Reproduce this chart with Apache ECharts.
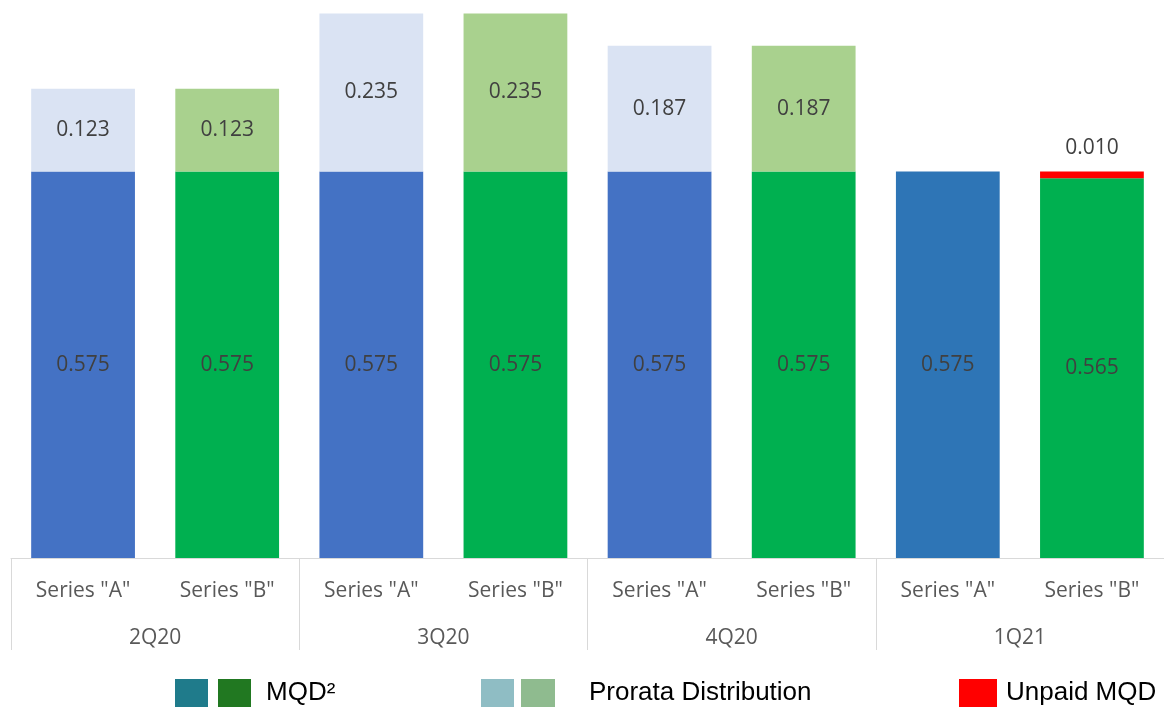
<!DOCTYPE html>
<html>
<head>
<meta charset="utf-8">
<script src="https://cdn.jsdelivr.net/npm/echarts@6/dist/echarts.min.js"></script>
<style>
  html, body { margin: 0; padding: 0; background: #fff; }
  #chart { width: 1164px; height: 707px; }
</style>
</head>
<body>
<div id="chart"></div>
<script>
// bars, one per series per quarter
var barLabels = ['Series "A"', 'Series "B"', 'Series "A"', 'Series "B"', 'Series "A"', 'Series "B"', 'Series "A"', 'Series "B"'];
var quarters = ['2Q20', '3Q20', '4Q20', '1Q21'];
var mqd = [0.575, 0.575, 0.575, 0.575, 0.575, 0.575, 0.575, 0.565];
var extra = [0.123, 0.123, 0.235, 0.235, 0.187, 0.187, null, 0.010];

// colours
var baseColors = ['#4472C4', '#00B050', '#4472C4', '#00B050', '#4472C4', '#00B050', '#2E75B6', '#00B050'];
var topColors = ['#DAE3F3', '#A9D18E', '#DAE3F3', '#A9D18E', '#DAE3F3', '#A9D18E', '#DAE3F3', '#FF0000'];

var chart = echarts.init(document.getElementById('chart'));

var labelFont = { fontFamily: 'Open Sans', fontSize: 21, color: '#404040' };

var baseData = mqd.map(function (v, i) {
  return { value: v, itemStyle: { color: baseColors[i] } };
});
var topData = extra.map(function (v, i) {
  var item = { value: v, itemStyle: { color: topColors[i] } };
  // the tiny red slice gets its label above
  if (i === 7) item.label = { position: 'top', distance: 13 };
  return item;
});

var option = {
  animation: false,
  grid: { left: 11, width: 1159, top: 0, height: 558 },
  xAxis: [
    {
      type: 'category',
      data: barLabels,
      axisLine: { show: true, lineStyle: { color: '#D9D9D9', width: 1 } },
      axisTick: { show: false },
      axisLabel: { margin: 23, fontFamily: 'Open Sans', fontSize: 21, color: '#595959' }
    },
    {
      type: 'category',
      position: 'bottom',
      data: quarters,
      axisLine: { show: false },
      axisTick: { show: true, length: 92, lineStyle: { color: '#D9D9D9', width: 1 } },
      axisLabel: { margin: 70, fontFamily: 'Open Sans', fontSize: 21, color: '#595959' }
    }
  ],
  yAxis: {
    type: 'value', min: 0, max: 0.83, show: false,
    splitLine: { show: false }
  },
  series: [
    {
      name: 'MQD²', type: 'bar', stack: 'total', barWidth: '72%',
      data: baseData,
      label: Object.assign({ show: true, position: 'inside', formatter: function (p) { return p.value.toFixed(3); } }, labelFont)
    },
    {
      name: 'Prorata Distribution', type: 'bar', stack: 'total', barWidth: '72%',
      data: topData,
      label: Object.assign({ show: true, position: 'inside', formatter: function (p) { return p.value == null ? '' : p.value.toFixed(3); } }, labelFont)
    }
  ],
  graphic: [
    { type: 'rect', shape: { x: 175, y: 679, width: 33, height: 28 }, style: { fill: '#1F7B8B' } },
    { type: 'rect', shape: { x: 218, y: 679, width: 33, height: 28 }, style: { fill: '#217821' } },
    { type: 'text', x: 266, y: 693, style: { text: 'MQD²', fontFamily: 'Liberation Sans', fontSize: 26, fill: '#000', verticalAlign: 'middle' } },
    { type: 'rect', shape: { x: 481, y: 679, width: 33, height: 28 }, style: { fill: '#8FBDC4' } },
    { type: 'rect', shape: { x: 521, y: 679, width: 34, height: 28 }, style: { fill: '#8FBB8F' } },
    { type: 'text', x: 589, y: 693, style: { text: 'Prorata Distribution', fontFamily: 'Liberation Sans', fontSize: 26, fill: '#000', verticalAlign: 'middle' } },
    { type: 'rect', shape: { x: 959, y: 679, width: 38, height: 28 }, style: { fill: '#FF0000' } },
    { type: 'text', x: 1006, y: 693, style: { text: 'Unpaid MQD', fontFamily: 'Liberation Sans', fontSize: 26, fill: '#000', verticalAlign: 'middle' } }
  ]
};

chart.setOption(option);
</script>
</body>
</html>
